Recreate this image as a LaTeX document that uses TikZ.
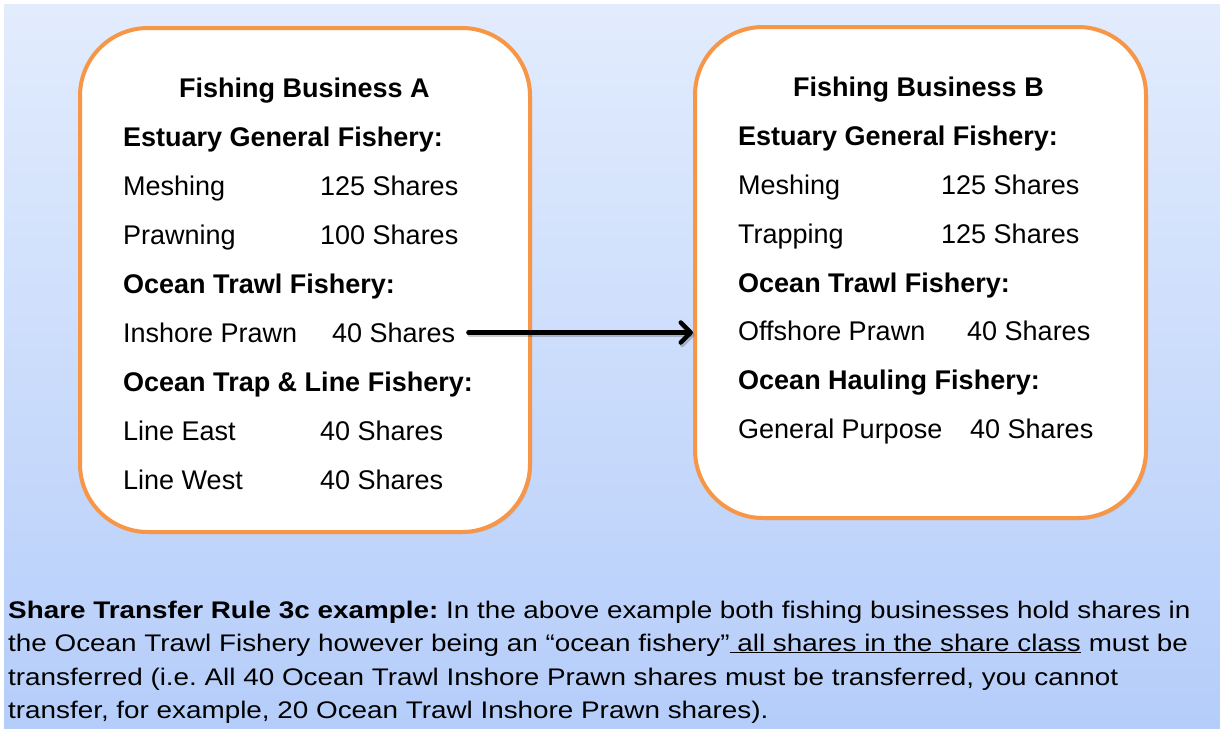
\documentclass[tikz,border=0pt]{standalone}
\usepackage{fontspec}
\setmainfont{Liberation Sans}
\usetikzlibrary{arrows.meta,shadows}
\frenchspacing
\definecolor{bgtop}{HTML}{E2ECFD}
\definecolor{bgbot}{HTML}{B5CDFA}
\definecolor{boxorange}{HTML}{F79646}
\newcommand{\stretchline}[1]{\scalebox{1.16}[1]{#1}}
\tikzset{
  fbox/.style={draw=boxorange, line width=4pt, fill=white, rounded corners=68pt,
    drop shadow={opacity=0.25, shadow xshift=2pt, shadow yshift=-2pt}},
  txt/.style={anchor=base west, inner sep=0pt, font=\fontsize{27}{30}\selectfont},
  btxt/.style={txt, font=\fontsize{27}{30}\selectfont\bfseries},
  note/.style={anchor=base west, inner sep=0pt, font=\fontsize{24}{27}\selectfont},
  transfer/.style={line width=4.5pt, line cap=round, -{Straight Barb[length=10pt,width=20pt,line cap=round,line join=round]}},
  transfershadow/.style={transfer, draw=black, opacity=0.2}
}
\begin{document}
\begin{tikzpicture}[x=1pt,y=-1pt]
\useasboundingbox (0,0) rectangle (1220,728);
\fill[white] (0,0) rectangle (1220,728);
\shade[top color=bgtop, bottom color=bgbot] (4,4) rectangle (1220,728);
% boxes
\node[fbox, minimum width=450pt, minimum height=504pt] (boxA) at (305,280) {};
\node[fbox, minimum width=451pt, minimum height=491pt] (boxB) at (920.5,272.5) {};
% Business A
\node[btxt] (a0) at (179,97) {Fishing Business A};
\node[btxt] (a1) at (123,146) {Estuary General Fishery:};
\node[txt] (a2) at (123,195) {Meshing};
\node[txt] (a2s) at (320,195) {125 Shares};
\node[txt] (a3) at (123,244) {Prawning};
\node[txt] (a3s) at (320,244) {100 Shares};
\node[btxt] (a4) at (123,293) {Ocean Trawl Fishery:};
\node[txt] (a5) at (123,342) {Inshore Prawn};
\node[txt] (a5s) at (332,342) {40 Shares};
\node[btxt] (a6) at (123,391) {Ocean Trap \& Line Fishery:};
\node[txt] (a7) at (123,440) {Line East};
\node[txt] (a7s) at (320,440) {40 Shares};
\node[txt] (a8) at (123,489) {Line West};
\node[txt] (a8s) at (320,489) {40 Shares};
% Business B
\node[btxt] (b0) at (793,96) {Fishing Business B};
\node[btxt] (b1) at (738,145) {Estuary General Fishery:};
\node[txt] (b2) at (738,194) {Meshing};
\node[txt] (b2s) at (941,194) {125 Shares};
\node[txt] (b3) at (738,243) {Trapping};
\node[txt] (b3s) at (941,243) {125 Shares};
\node[btxt] (b4) at (738,292) {Ocean Trawl Fishery:};
\node[txt] (b5) at (738,340) {Offshore Prawn};
\node[txt] (b5s) at (967,340) {40 Shares};
\node[btxt] (b6) at (738,389) {Ocean Hauling Fishery:};
\node[txt] (b7) at (738,438) {General Purpose};
\node[txt] (b7s) at (970,438) {40 Shares};
% arrow
\coordinate (arrS) at ([xshift=13pt,yshift=9.5pt]a5s.base east);
\coordinate (arrE) at (arrS -| boxB.west);
\draw[transfershadow] ([xshift=1.5pt,yshift=-2.5pt]arrS) -- ([xshift=1.5pt,yshift=-2.5pt]arrE);
\draw[transfer] (arrS) -- (arrE);
% note
\node[note] (n1) at (8,618) {\stretchline{\textbf{Share Transfer Rule 3c example:} In the above example both fishing businesses hold shares in}};
\node[note] (n2) at (8,651) {\stretchline{the Ocean Trawl Fishery however being an “ocean fishery”\underline{ all shares in the share class} must be}};
\node[note] (n3) at (8,685) {\stretchline{transferred (i.e. All 40 Ocean Trawl Inshore Prawn shares must be transferred, you cannot}};
\node[note] (n4) at (8,718) {\stretchline{transfer, for example, 20 Ocean Trawl Inshore Prawn shares).}};
\end{tikzpicture}
\end{document}
